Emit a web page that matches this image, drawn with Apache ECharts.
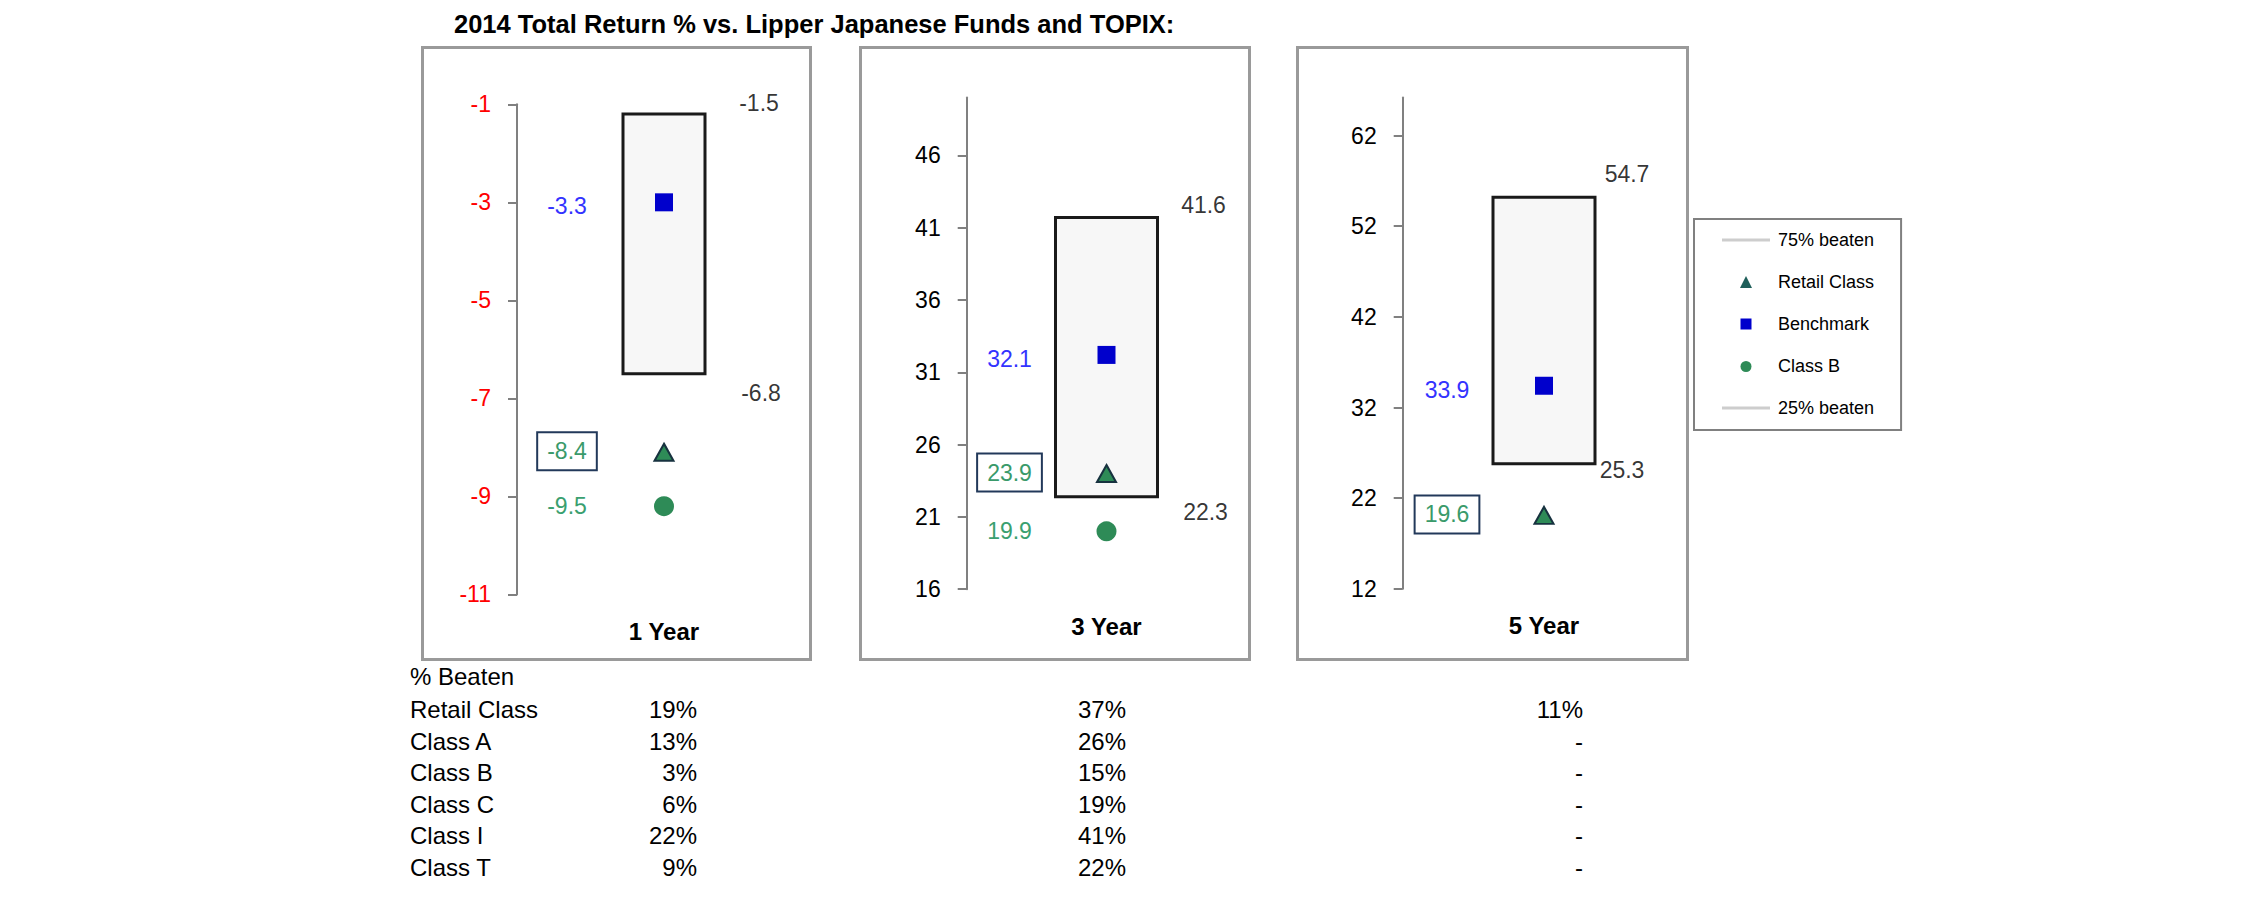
<!DOCTYPE html>
<html>
<head>
<meta charset="utf-8">
<script src="https://cdn.jsdelivr.net/npm/echarts@6/dist/echarts.min.js"></script>
<style>
html,body{margin:0;padding:0;background:#fff;}
#chart{width:2251px;height:898px;}
</style>
</head>
<body>
<div id="chart"></div>
<script>
// ---------------- data ----------------
const categories = ['1 Year', '3 Year', '5 Year'];
const beaten75 = [-1.5, 41.6, 54.7];      // 75% beaten (top of range box)
const beaten25 = [-6.8, 22.3, 25.3];      // 25% beaten (bottom of range box)
const retailClass = [-8.4, 23.9, 19.6];
const benchmark = [-3.3, 32.1, 33.9];
const classB = [-9.5, 19.9, null];

// axis extents and tick positions (the source axes show rounded tick labels)
const yMin = [-11.3, 15.9, 11.5];
const yMax = [-1.3, 49.9, 65.7];
const yInterval = [2, 5, 10];
const yTicks1Y = [-11.3, -9.3, -7.3, -5.3, -3.3, -1.3];
const yTicks3Y = [15.9, 20.9, 25.9, 30.9, 35.9, 40.9, 45.9];
const yTicks5Y = [11.5, 21.5, 31.5, 41.5, 51.5, 61.5];
const yLabels1Y = ['-11', '-9', '-7', '-5', '-3', '-1'];
const yLabels3Y = ['16', '21', '26', '31', '36', '41', '46'];
const yLabels5Y = ['12', '22', '32', '42', '52', '62'];

// % beaten table
const tableHeader = '% Beaten';
const tableRows = ['Retail Class', 'Class A', 'Class B', 'Class C', 'Class I', 'Class T'];
const beaten1Y = ['19%', '13%', '3%', '6%', '22%', '9%'];
const beaten3Y = ['37%', '26%', '15%', '19%', '41%', '22%'];
const beaten5Y = ['11%', '-', '-', '-', '-', '-'];

const titleText = '2014 Total Return % vs. Lipper Japanese Funds and TOPIX:';

// ---------------- layout / style ----------------
const FONT = "'Liberation Sans', Arial, sans-serif";
const yTicks = [yTicks1Y, yTicks3Y, yTicks5Y];
const yLabels = [yLabels1Y, yLabels3Y, yLabels5Y];
const grids = [
  {left: 517, top: 104.3, width: 294, height: 490.1},
  {left: 966.7, top: 97.5, width: 279.6, height: 491.7},
  {left: 1402.7, top: 97.5, width: 282.6, height: 491.3}
];
const frames = [[421, 46, 391, 615], [859, 46, 392, 615], [1296, 46, 393, 615]];
const boxWidth = [82, 102, 102];
const topLabelOffset = [[95, -11], [97, -13], [83, -23]];
const botLabelOffset = [[97, 19], [99, 15], [78, 6]];
const tickLabelColor = ['#ff0000', '#000000', '#000000'];

const fmt1 = p => p.value[1].toFixed(1);

const chart = echarts.init(document.getElementById('chart'), null, {renderer: 'svg'});

const grid = [], xAxis = [], yAxis = [], series = [];
for (let i = 0; i < 3; i++) {
  grid.push(Object.assign({containLabel: false}, grids[i]));
  xAxis.push({
    type: 'category', gridIndex: i, data: [categories[i]],
    axisLine: {show: false}, axisTick: {show: false}, splitLine: {show: false},
    axisLabel: {fontSize: 24, fontWeight: 'bold', color: '#000', fontFamily: FONT, margin: 25}
  });
  const ticks = yTicks[i], labs = yLabels[i];
  yAxis.push({
    type: 'value', gridIndex: i, min: yMin[i], max: yMax[i], interval: yInterval[i],
    axisLine: {show: true, lineStyle: {color: '#808080', width: 2}},
    axisTick: {show: true, length: 9, lineStyle: {color: '#808080', width: 2}, customValues: ticks},
    splitLine: {show: false},
    axisLabel: {
      customValues: ticks, showMaxLabel: true, showMinLabel: true,
      fontSize: 23, color: tickLabelColor[i], fontFamily: FONT, margin: 26,
      formatter: v => {
        let best = 0;
        for (let k = 1; k < ticks.length; k++) if (Math.abs(ticks[k] - v) < Math.abs(ticks[best] - v)) best = k;
        return labs[best];
      }
    }
  });
  // range box between 25% and 75% beaten
  series.push({
    type: 'custom', name: 'range', xAxisIndex: i, yAxisIndex: i, z: 1,
    data: [[0, beaten25[i], beaten75[i]]],
    encode: {x: 0, y: [1, 2]},
    renderItem: (params, api) => {
      const lo = api.coord([api.value(0), api.value(1)]);
      const hi = api.coord([api.value(0), api.value(2)]);
      const w = boxWidth[i];
      return {type: 'rect', shape: {x: lo[0] - w / 2, y: hi[1], width: w, height: lo[1] - hi[1]},
              style: {fill: '#f7f7f7', stroke: '#1a1a1a', lineWidth: 3}};
    }
  });
  const valLabel = (offset, color, extra) => Object.assign({
    show: true, position: 'inside', offset: offset, formatter: fmt1,
    fontSize: 23, fontFamily: FONT, color: color
  }, extra || {});
  series.push({
    type: 'scatter', name: '75% beaten', xAxisIndex: i, yAxisIndex: i, z: 3,
    data: [[0, beaten75[i]]], symbol: 'circle', symbolSize: 1,
    itemStyle: {color: 'rgba(0,0,0,0)'},
    label: valLabel(topLabelOffset[i], '#000')
  });
  series.push({
    type: 'scatter', name: '25% beaten', xAxisIndex: i, yAxisIndex: i, z: 3,
    data: [[0, beaten25[i]]], symbol: 'circle', symbolSize: 1,
    itemStyle: {color: 'rgba(0,0,0,0)'},
    label: valLabel(botLabelOffset[i], '#000')
  });
  series.push({
    type: 'scatter', name: 'Benchmark', xAxisIndex: i, yAxisIndex: i, z: 4,
    data: [[0, benchmark[i]]], symbol: 'rect', symbolSize: 18,
    itemStyle: {color: '#0000cc', opacity: 1},
    label: valLabel([-97, 4], '#3333ff')
  });
  series.push({
    type: 'scatter', name: 'Retail Class', xAxisIndex: i, yAxisIndex: i, z: 5,
    data: [[0, retailClass[i]]], symbol: 'triangle', symbolSize: [19, 17],
    itemStyle: {color: '#2e8b57', borderColor: '#17323f', borderWidth: 2, opacity: 1},
    label: valLabel([-97, -1], '#3a9a6a', {
      backgroundColor: '#fff', borderColor: '#22395a', borderWidth: 2,
      padding: [7, 9, 6, 9]
    })
  });
  series.push({
    type: 'scatter', name: 'Class B', xAxisIndex: i, yAxisIndex: i, z: 4,
    data: classB[i] === null ? [] : [[0, classB[i]]], symbol: 'circle', symbolSize: 20,
    itemStyle: {color: '#2e8b57', opacity: 1},
    label: valLabel([-97, 0], '#3aa070')
  });
}

// frames and table as graphic elements
const graphic = [];
frames.forEach(f => graphic.push({
  type: 'rect', z: -10, shape: {x: f[0] + 1.5, y: f[1] + 1.5, width: f[2] - 3, height: f[3] - 3},
  style: {fill: '#fff', stroke: '#9a9a9a', lineWidth: 3}
}));
const txt = (s, x, y, align) => ({
  type: 'text', x: x, y: y, z: 10,
  style: {text: s, fontSize: 24, fontFamily: FONT, fill: '#000', align: align, verticalAlign: 'middle',
          textAlign: align, textVerticalAlign: 'middle'}
});
graphic.push(txt(tableHeader, 410, 676, 'left'));
tableRows.forEach((r, k) => {
  const y = 709.5 + k * 31.5;
  graphic.push(txt(r, 410, y, 'left'));
  graphic.push(txt(beaten1Y[k], 697, y, 'right'));
  graphic.push(txt(beaten3Y[k], 1126, y, 'right'));
  graphic.push(txt(beaten5Y[k], 1583, y, 'right'));
});

// legend icons: 48x12 boxes so markers keep their shape and lines span the full width
const lineIcon = 'path://M0,4.5H48V7.5H0Z';
const triIcon = 'path://M0,0M48,12M18,12L24,0L30,12Z';
const rectIcon = 'path://M0,0M48,12M18.5,0.5H29.5V11.5H18.5Z';
const circIcon = 'path://M0,0M48,12M18.5,6.5A5.5,5.5,0,1,0,29.5,6.5A5.5,5.5,0,1,0,18.5,6.5Z';
chart.setOption({
  animation: false,
  backgroundColor: '#fff',
  title: {
    text: titleText, left: 454, top: 11, padding: 0,
    textStyle: {fontSize: 25.5, fontWeight: 'bold', color: '#000', fontFamily: FONT}
  },
  legend: {
    orient: 'vertical', left: 1694, top: 219,
    padding: [12, 27, 13, 28], itemWidth: 48, itemHeight: 12, itemGap: 24,
    backgroundColor: '#fff', borderColor: '#808080', borderWidth: 2,
    selectedMode: false,
    textStyle: {fontSize: 18, color: '#000', fontFamily: FONT, padding: [0, 0, 0, 3]},
    data: [
      {name: '75% beaten', icon: 'path://M0,0M48,12M0,4.5H48V7.5H0Z', itemStyle: {color: '#c0c0c0', borderWidth: 0}},
      {name: 'Retail Class', icon: triIcon, itemStyle: {color: '#1f5f5a', borderWidth: 0}},
      {name: 'Benchmark', icon: rectIcon, itemStyle: {color: '#0000cc', borderWidth: 0}},
      {name: 'Class B', icon: circIcon, itemStyle: {color: '#2e8b57', borderWidth: 0}},
      {name: '25% beaten', icon: 'path://M0,0M48,12M0,4.5H48V7.5H0Z', itemStyle: {color: '#c0c0c0', borderWidth: 0}}
    ]
  },
  grid: grid, xAxis: xAxis, yAxis: yAxis, series: series,
  graphic: graphic
});
</script>
</body>
</html>
